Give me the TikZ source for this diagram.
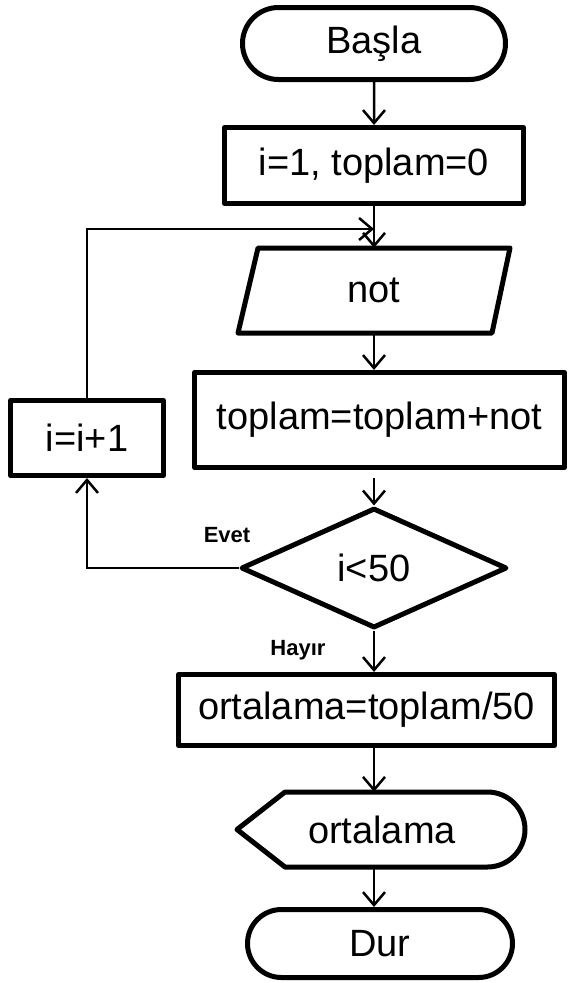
\documentclass[tikz,border=0pt]{standalone}
\usepackage{fontspec}
\setmainfont{Liberation Sans}
\usetikzlibrary{arrows.meta,shapes.geometric,shapes.misc}
\begin{document}
\begin{tikzpicture}[x=1pt,y=-1pt,
  box/.style={draw, line width=5pt, line join=round, rectangle, inner sep=0pt,
    font=\fontsize{38}{44}\selectfont},
  term/.style={box, rounded rectangle},
  decision/.style={box, diamond},
  plain/.style={inner sep=0pt, font=\fontsize{38}{44}\selectfont},
  outline/.style={draw, line width=5pt, line join=round},
  conn/.style={line width=2.5pt, -{Straight Barb[length=13pt,width=22pt]}},
  tag/.style={inner sep=0pt, font=\fontsize{22}{26}\selectfont\bfseries}]
\useasboundingbox (0,0) rectangle (569,983);

% process nodes
\node[term, minimum width=263pt, minimum height=72pt] (start) at (374,43.5) {Başla};
\node[box, minimum width=299pt, minimum height=76pt] (init) at (374,165.5) {i=1, toplam=0};
\node[plain, minimum height=85pt] (read) at (374,290.5) {not};
\draw[outline] (258,248) -- (510,248) -- (492,333) -- (238,333) -- cycle;
\node[box, minimum width=370pt, minimum height=95pt] (sum) at (379.5,420) {toplam=toplam+not};
\node[box, minimum width=153pt, minimum height=75pt] (inc) at (87,438) {i=i+1};
\node[decision, minimum width=266pt, minimum height=120pt] (cond) at (374,568) {i<50};
\node[box, minimum width=376pt, minimum height=71pt] (avg) at (366.5,710) {ortalama=toplam/50};
\node[plain, minimum height=75pt] (out) at (382,829.5) {ortalama};
\draw[outline] (237,829.5) -- (285,792) -- (487.5,792)
  arc[start angle=90, end angle=-90, radius=37.5pt] -- (285,867) -- cycle;
\node[term, minimum width=265pt, minimum height=68pt] (stop) at (380,943.5) {Dur};

% branch labels
\node[tag] (yes) at (227,535) {Evet};
\node[tag] (no) at (298,650) {Hayır};

% connectors
\coordinate (join) at (374,229);
\draw[conn] (start) -- (init);
\draw[conn] (init.south) -- (init.south |- read.north);
\draw[conn] (inc.north) |- (join);
\draw[conn] (read.south) -- (read.south |- sum.north);
\draw[conn, shorten <=8pt] (read.south |- sum.south) -- (cond.north);
\draw[conn] (cond.west) -| (inc.south);
\draw[conn] (cond.south) -- (cond.south |- avg.north);
\draw[conn] (cond.south |- avg.south) -- (cond.south |- out.north);
\draw[conn] (cond.south |- out.south) -- (cond.south |- stop.north);
\end{tikzpicture}
\end{document}
